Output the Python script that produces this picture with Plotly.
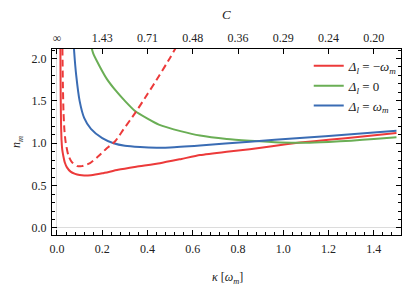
import plotly.graph_objects as go

# ---- data ----
kappa_red = [0.0148, 0.0155, 0.0165, 0.018, 0.020, 0.023, 0.028, 0.035, 0.044, 0.060, 0.080, 0.100,
             0.120, 0.150, 0.200, 0.270, 0.350, 0.455, 0.550, 0.632, 0.750, 0.852, 0.950, 1.073,
             1.200, 1.350, 1.500]
n_red = [2.25, 1.90, 1.55, 1.22, 1.04, 0.93, 0.85, 0.77, 0.715, 0.665, 0.638, 0.624,
         0.618, 0.622, 0.645, 0.686, 0.722, 0.765, 0.815, 0.860, 0.900, 0.930, 0.965, 1.008,
         1.040, 1.080, 1.120]

kappa_red_dash = [0.0235, 0.026, 0.029, 0.033, 0.038, 0.050, 0.065, 0.090, 0.110, 0.146, 0.180,
                  0.220, 0.256, 0.293, 0.345, 0.400, 0.450, 0.500, 0.530]
n_red_dash = [2.25, 1.70, 1.35, 1.15, 1.02, 0.86, 0.78, 0.730, 0.730, 0.765, 0.840,
              0.940, 1.020, 1.160, 1.356, 1.580, 1.790, 2.010, 2.150]

kappa_green = [0.150, 0.160, 0.190, 0.220, 0.260, 0.300, 0.345, 0.400, 0.450, 0.550, 0.632,
               0.750, 0.852, 0.985, 1.100, 1.200, 1.300, 1.400, 1.500]
n_green = [2.16, 2.06, 1.90, 1.76, 1.62, 1.50, 1.38, 1.29, 1.22, 1.14, 1.09,
           1.05, 1.03, 1.01, 1.005, 1.015, 1.030, 1.050, 1.072]

kappa_blue = [0.0735, 0.076, 0.085, 0.100, 0.120, 0.150, 0.200, 0.250, 0.300, 0.367, 0.440,
              0.500, 0.632, 0.852, 1.073, 1.300, 1.500]
n_blue = [2.20, 2.08, 1.80, 1.50, 1.30, 1.17, 1.06, 1.00, 0.97, 0.955, 0.948,
          0.950, 0.973, 1.018, 1.061, 1.105, 1.147]

bottom_tick_vals = [0.0, 0.2, 0.4, 0.6, 0.8, 1.0, 1.2, 1.4]
top_tick_kappa = [0.0, 0.2, 0.4, 0.6, 0.8, 1.0, 1.2, 1.4]
top_tick_labels = ["∞", "1.43", "0.71", "0.48", "0.36", "0.29", "0.24", "0.20"]
y_tick_vals = [0.0, 0.5, 1.0, 1.5, 2.0]

RED = "#ec3a3a"
GREEN = "#6aae55"
BLUE = "#3a6cb4"
FONT = "Liberation Serif, Times New Roman, serif"
TXT = "#222222"

fig = go.Figure()
fig.add_trace(go.Scatter(x=kappa_red, y=n_red, mode="lines",
                         line=dict(color=RED, width=2, shape="spline", smoothing=0.5),
                         name="<i>Δ<sub>l</sub></i> = −<i>ω<sub>m</sub></i>"))
fig.add_trace(go.Scatter(x=kappa_green, y=n_green, mode="lines",
                         line=dict(color=GREEN, width=2, shape="spline", smoothing=0.6),
                         name="<i>Δ<sub>l</sub></i> = 0"))
fig.add_trace(go.Scatter(x=kappa_blue, y=n_blue, mode="lines",
                         line=dict(color=BLUE, width=2, shape="spline", smoothing=0.6),
                         name="<i>Δ<sub>l</sub></i> = <i>ω<sub>m</sub></i>"))
fig.add_trace(go.Scatter(x=kappa_red_dash, y=n_red_dash, mode="lines",
                         line=dict(color=RED, width=2, dash="7px,4px", shape="spline", smoothing=0.6),
                         showlegend=False))
# invisible traces to activate top / right axes
fig.add_trace(go.Scatter(x=[0.0], y=[0.0], xaxis="x2", mode="markers",
                         marker=dict(opacity=0), showlegend=False, hoverinfo="skip"))
fig.add_trace(go.Scatter(x=[0.0], y=[0.0], yaxis="y2", mode="markers",
                         marker=dict(opacity=0), showlegend=False, hoverinfo="skip"))

xr = [-0.022, 1.52]
yr = [-0.083, 2.112]

tickfont = dict(family=FONT, size=12, color=TXT)

fig.update_layout(
    width=415, height=288,
    margin=dict(l=44, r=22, t=41, b=61, autoexpand=False),
    paper_bgcolor="white", plot_bgcolor="white",
    font=dict(family=FONT, size=12, color=TXT),
    showlegend=True,
    legend=dict(x=1.005, y=0.99, xanchor="right", yanchor="top",
                bgcolor="rgba(0,0,0,0)", font=dict(family=FONT, size=13, color=TXT),
                itemwidth=30, tracegroupgap=0),
    xaxis=dict(range=xr, automargin=False, showgrid=False, zeroline=True, zerolinecolor="#dcdcdc",
               zerolinewidth=1, showline=True, linecolor="black", linewidth=1, mirror=False,
               ticks="inside", ticklen=5, tickwidth=1, tickcolor="black", tickfont=tickfont,
               tickvals=bottom_tick_vals, tickformat=".1f", ticklabelstandoff=3,
               minor=dict(ticks="inside", ticklen=3, tickcolor="black", dtick=0.04, tick0=0, showgrid=False)),
    xaxis2=dict(range=xr, automargin=False, overlaying="x", side="top", matches="x", showgrid=False,
                zeroline=False, showline=True, linecolor="black", linewidth=1,
                ticks="inside", ticklen=5, tickwidth=1, tickcolor="black", tickfont=tickfont,
                tickvals=top_tick_kappa, ticktext=top_tick_labels, ticklabelstandoff=1),
    yaxis=dict(range=yr, automargin=False, showgrid=False, zeroline=True, zerolinecolor="#dcdcdc",
               zerolinewidth=1, showline=True, linecolor="black", linewidth=1,
               ticks="inside", ticklen=5, tickwidth=1, tickcolor="black", tickfont=tickfont,
               tickvals=y_tick_vals, tickformat=".1f", ticklabelstandoff=2,
               minor=dict(ticks="inside", ticklen=3, tickcolor="black", dtick=0.1, tick0=0, showgrid=False)),
    yaxis2=dict(range=yr, automargin=False, overlaying="y", side="right", matches="y", showgrid=False,
                zeroline=False, showline=True, linecolor="black", linewidth=1,
                ticks="inside", ticklen=5, tickwidth=1, tickcolor="black",
                tickvals=y_tick_vals, showticklabels=False,
                minor=dict(ticks="inside", ticklen=3, tickcolor="black", dtick=0.1, tick0=0, showgrid=False)),
    annotations=[
        dict(text="<i>κ</i> [<i>ω<sub>m</sub></i>]", xref="paper", yref="paper", x=0.504, y=-0.23,
             xanchor="center", yanchor="middle", showarrow=False, font=dict(family=FONT, size=12, color=TXT)),
        dict(text="<i>C</i>", xref="paper", yref="paper", x=0.5, y=1.188,
             xanchor="center", yanchor="middle", showarrow=False, font=dict(family=FONT, size=13, color=TXT)),
        dict(text="<i>n<sub>m</sub></i>", xref="paper", yref="paper", x=-0.1, y=0.5, textangle=-90,
             xanchor="center", yanchor="middle", showarrow=False, font=dict(family=FONT, size=12, color=TXT)),
    ],
)

fig.write_html("out.html")
